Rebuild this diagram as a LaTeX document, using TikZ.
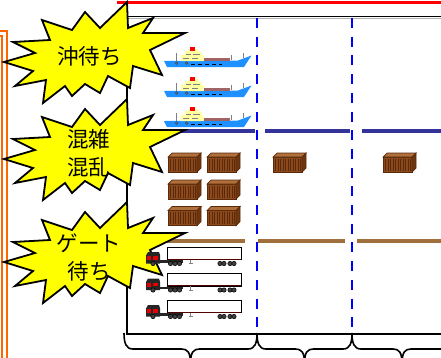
\documentclass[tikz,border=0pt]{standalone}
\usepackage{fontspec}
\newfontfamily\jpfont{Noto Sans CJK JP}

\definecolor{burstyellow}{RGB}{255,255,0}
\definecolor{lanecolor}{RGB}{0,0,255}
\definecolor{berthnavy}{RGB}{51,51,153}
\definecolor{yardbrown}{RGB}{160,112,60}
\definecolor{frameorange}{RGB}{255,102,0}
\definecolor{hullblue}{RGB}{30,144,255}
\definecolor{bridgecream}{RGB}{255,255,160}
\definecolor{funnelred}{RGB}{255,0,0}
\definecolor{cargomauve}{RGB}{160,100,100}
\definecolor{cratefront}{RGB}{140,74,28}
\definecolor{cratetop}{RGB}{176,112,60}
\definecolor{crateside}{RGB}{110,54,16}
\definecolor{crateedge}{RGB}{90,42,10}
\definecolor{cabred}{RGB}{230,0,0}
\definecolor{trailerrim}{RGB}{80,0,0}

% brace under one lane: left end, tip, right end
\newcommand{\spanbrace}[3]{%
  \draw[bracestroke] (#1,333) .. controls (#1,343) and (#1+2,349) .. (#1+9,349)
    -- (#2-9,349) .. controls (#2-3,349) and (#2,352) .. (#2,364)
    .. controls (#2,352) and (#2+3,349) .. (#2+9,349)
    -- (#3-9,349) .. controls (#3-2,349) and (#3,343) .. (#3,333);}

\tikzset{
  burst/.pic={
    \filldraw[burstline] (127,2) -- (128,28) -- (153,18) -- (143,33) -- (185,33)
      -- (150,50) -- (162,75) -- (133,66) -- (130,88) -- (108,76) -- (100,93)
      -- (85,84) -- (72,96) -- (65,86) -- (43,103) -- (46,80) -- (15,86)
      -- (33,71) -- (4,62) -- (35,53) -- (13,42) -- (50,40) -- (42,20)
      -- (72,30) -- (85,12) -- (100,28) -- cycle;
  },
  ship/.pic={
    % hull
    \fill[hullblue] (0,14) -- (74,13.5) -- (87.5,8.5) -- (80,20) -- (3,20) -- cycle;
    % bridge and funnel
    \fill[bridgecream] (17,14) -- (17,7.5) -- (21,7.5) -- (21,4) -- (25,4)
      -- (25,2) -- (34,2) -- (34,4.5) -- (37.5,4.5) -- (37.5,8) -- (39.5,8)
      -- (39.5,14) -- cycle;
    \draw[gray, line width=0.7pt] (19,11) -- (25,11) (28,11) -- (34,11)
      (22,7.5) -- (27,7.5) (29,7.5) -- (36,7.5);
    \fill[funnelred] (26,-0.5) rectangle (31,3.5);
    % deck cargo and masts
    \fill[cargomauve] (39.5,11) rectangle (66,14);
    \draw[gray, line width=0.8pt] (12.7,6) -- (12.7,14) (67.7,8) -- (67.7,12.5)
      (79,6) -- (79,11);
    % anchors and portholes
    \draw[black!70, line width=0.7pt] (12.7,16) circle (1.3) (22.7,16) circle (1.3);
    \draw[black, line width=1.1pt, dash pattern=on 4pt off 3pt] (27,17.3) -- (58,17.3);
  },
  crate/.pic={
    \filldraw[draw=crateedge, fill=cratefront, line width=0.7pt] (0,4) rectangle (29,19);
    \filldraw[draw=crateedge, fill=cratetop, line width=0.7pt]
      (0,4) -- (4,0) -- (33,0) -- (29,4) -- cycle;
    \filldraw[draw=crateedge, fill=crateside, line width=0.7pt]
      (29,4) -- (33,0) -- (33,15) -- (29,19) -- cycle;
    \foreach \r in {2.5,5,...,27.5}
      \draw[crateedge, line width=0.6pt] (\r,5.5) -- (\r,17.5);
  },
  truck/.pic={
    % trailer
    \filldraw[draw=black, fill=white, line width=1pt] (0,0) rectangle (74.5,12.5);
    \draw[trailerrim, line width=1.3pt] (0.5,12.3) -- (74,12.3);
    \draw[gray, line width=0.9pt] (23.5,12.5) -- (23.5,16.5) (21.5,16.5) -- (25.5,16.5);
    % tractor
    \fill[black!85] (-21,8.5) -- (-19,5) -- (-8,5) -- (-7,8) -- (-7,16.5)
      -- (-21,16.5) -- cycle;
    \fill[cabred] (-20,9) rectangle (-16.5,13);
    \fill[cabred] (-14.5,9) rectangle (-9,12.5);
    \fill[black!85] (-8,13) rectangle (16,15.5);
    \foreach \wx in {-14,3.5,8,12.5,53,57,63,67}
      \filldraw[draw=black, fill=black!75, line width=0.5pt] (\wx,16.5) circle (2.2);
  }
}

\begin{document}
\begin{tikzpicture}[x=1pt, y=-1pt,
    burstline/.style={draw=black, fill=burstyellow, line width=1.8pt},
    burstlabel/.style={font=\jpfont\fontsize{21.5pt}{28pt}\selectfont,
      align=center, inner sep=0pt},
    lane/.style={draw=lanecolor, line width=2.2pt, dash pattern=on 10pt off 8.7pt},
    berth/.style={draw=berthnavy, line width=4.5pt},
    yard/.style={draw=yardbrown, line width=4.5pt},
    orangeframe/.style={draw=frameorange, line width=2.6pt},
    bracestroke/.style={draw=black, line width=1.6pt}
  ]

  \clip (0,0) rectangle (441,357);

  % --- Frame on the left and top rule ---
  \draw[orangeframe] (-5,31) -- (6.8,31) -- (6.8,360);
  \draw[orangeframe, line width=2pt] (-5,35.5) -- (1.5,35.5) -- (1.5,360);
  \draw[red, line width=2.8pt] (117,2.8) -- (445,2.8);

  % --- Terminal outline ---
  \draw[gray!60, line width=1.3pt] (128,18.8) -- (445,18.8);
  \draw[black, line width=1.6pt] (445,16.5) -- (127,16.5) -- (127,334) -- (445,334);

  % --- Lane dividers ---
  \draw[lane] (257,18) -- (257,328);
  \draw[lane] (352,18) -- (352,328);

  % --- Quay line and gate line ---
  \draw[berth] (127,131) -- (255,131) (265,131) -- (350,131) (362,131) -- (445,131);
  \draw[yard] (127,241) -- (245,241) (258,241) -- (345,241) (357,241) -- (445,241);

  % --- Vessels and containers ---
  \foreach \sy in {47,77,107}
    \pic at (164,\sy) {ship};
  \foreach \cx/\cy in {168/153, 207/153, 168/180, 207/180,
                       168/206.5, 207/206.5, 273/153, 383/153}
    \pic at (\cx,\cy) {crate};

  % --- Bursts ---
  \pic at (0,0) {burst};
  \pic at (0,97) {burst};
  \pic at (0,200) {burst};
  \node[burstlabel] (okimachi)  at (89.5,56)   {沖待ち};
  \node[burstlabel] (konzatsu)  at (88.5,153)  {混雑\\混乱};
  \node[burstlabel] (gatemachi) at (89,257.5)  {ゲート\\待ち};

  % --- Trucks ---
  \foreach \ty in {247,273.5,300}
    \pic at (167,\ty) {truck};

  % --- Braces under the lanes ---
  \spanbrace{124}{190.5}{257}
  \spanbrace{257}{304.5}{352}
  \spanbrace{352}{402}{452}

\end{tikzpicture}
\end{document}
